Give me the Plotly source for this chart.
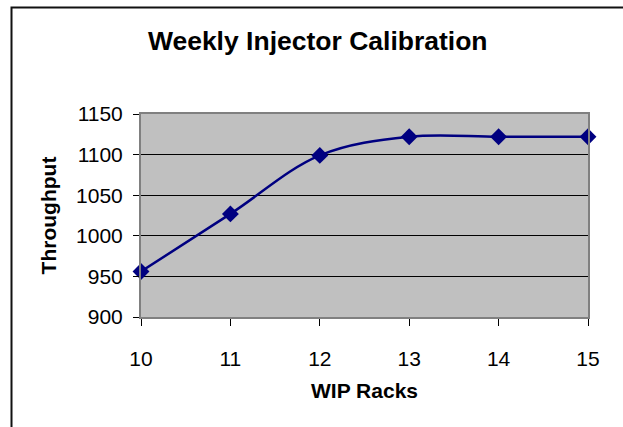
import plotly.graph_objects as go

wip_racks = [10, 11, 12, 13, 14, 15]
throughput = [956, 1027, 1099, 1122, 1122, 1122]
y_ticks = [900, 950, 1000, 1050, 1100, 1150]

FONT = "Liberation Sans, Arial, sans-serif"

fig = go.Figure()
fig.add_trace(go.Scatter(
    x=wip_racks, y=throughput,
    mode="lines+markers",
    line=dict(color="#000080", width=2.5, shape="spline", smoothing=1.0),
    marker=dict(symbol="diamond", size=13, color="#000080"),
    cliponaxis=False,
    showlegend=False,
    hoverinfo="skip",
))

fig.update_layout(
    width=623, height=427,
    margin=dict(l=141, r=35, t=114, b=110),
    paper_bgcolor="white",
    plot_bgcolor="#C0C0C0",
    font=dict(family=FONT, color="black", size=21),
    title=dict(text="<b>Weekly Injector Calibration</b>",
               font=dict(family=FONT, size=26.5, color="black"),
               x=0.51, xref="container", xanchor="center",
               y=1 - 41 / 427, yref="container", yanchor="middle"),
    xaxis=dict(
        range=[10, 15], tickvals=wip_racks, ticktext=[str(v) for v in wip_racks],
        showgrid=False, zeroline=False,
        showline=True, linecolor="#808080", linewidth=2, mirror=True,
        ticks="outside", ticklen=7, tickcolor="black", tickwidth=1,
        tickfont=dict(size=21), ticklabelstandoff=15,
        title=dict(text="<b>WIP Racks</b>", font=dict(size=21), standoff=14),
    ),
    yaxis=dict(
        range=[900, 1150], tickvals=y_ticks, ticktext=[str(v) for v in y_ticks],
        showgrid=True, gridcolor="black", gridwidth=1, zeroline=False,
        showline=True, linecolor="#808080", linewidth=2, mirror=True,
        ticks="outside", ticklen=6, tickcolor="black", tickwidth=1,
        tickfont=dict(size=21), ticklabelstandoff=6,
        title=dict(text="<b>Throughput</b>", font=dict(size=21), standoff=14),
    ),
    shapes=[dict(type="rect", xref="paper", yref="paper",
                 x0=(11.5 - 141) / 447, x1=1.4,
                 y0=-1.0, y1=(317 - 7.5) / 203,
                 line=dict(color="#111111", width=2), fillcolor="rgba(0,0,0,0)",
                 layer="below")],
)

fig.write_html("out.html", config={"displayModeBar": False},
               post_script="document.body.style.margin='0';")
